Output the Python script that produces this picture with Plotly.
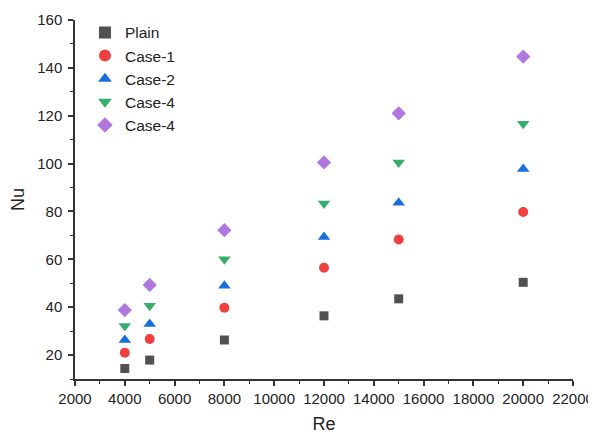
import plotly.graph_objects as go

re_vals = [4000, 5000, 8000, 12000, 15000, 20000]
series_names = ["Plain", "Case-1", "Case-2", "Case-4", "Case-4"]
plain = [14.4, 17.9, 26.3, 36.4, 43.5, 50.4]
case1 = [21.0, 26.7, 39.8, 56.5, 68.3, 79.8]
case2 = [26.3, 33.0, 49.0, 69.3, 83.6, 97.7]
case4a = [32.1, 40.6, 60.0, 83.3, 100.5, 116.6]
case4b = [38.8, 49.3, 72.2, 100.5, 121.0, 144.7]

colors = ["#515151", "#F14040", "#1A6FDF", "#37AD6B", "#B177DE"]
symbols = ["square", "circle", "triangle-up", "triangle-down", "diamond"]
sizes = [9, 10, 11, 11, 11]
data = [plain, case1, case2, case4a, case4b]

FONT = "Liberation Sans, Arial"

fig = go.Figure()
for name, ys, c, s, sz in zip(series_names, data, colors, symbols, sizes):
    fig.add_trace(go.Scatter(x=re_vals, y=ys, mode="markers", name=name,
                             marker=dict(color=c, symbol=s, size=sz, line=dict(width=0))))

axis_common = dict(showline=True, linecolor="#333333", linewidth=1.5,
                   ticks="outside", ticklen=5, tickwidth=1.5, tickcolor="#333333",
                   showgrid=False, zeroline=False, mirror=False, automargin=False,
                   tickfont=dict(family=FONT, size=15, color="#222222"))

fig.update_xaxes(range=[2000, 22000], tick0=0, dtick=2000, tickformat="d", **axis_common,
                 minor=dict(ticks="outside", ticklen=3, tickwidth=1.2, tickcolor="#333333", dtick=1000),
                 title=dict(text="Re", font=dict(family=FONT, size=18, color="#222222"), standoff=12))
fig.update_yaxes(range=[10, 160], tick0=0, dtick=20, ticklabelstandoff=3, **axis_common,
                 minor=dict(ticks="outside", ticklen=3, tickwidth=1.2, tickcolor="#333333", dtick=10),
                 title=dict(text="Nu", font=dict(family=FONT, size=18, color="#222222"), standoff=8))

fig.update_layout(width=596, height=435, margin=dict(l=67, r=31, t=12, b=64, autoexpand=False),
                  plot_bgcolor="white", paper_bgcolor="white",
                  legend=dict(x=0.02, xref="paper", y=0.982, yref="container",
                              xanchor="left", yanchor="top",
                              font=dict(family=FONT, size=15.5, color="#222222"),
                              bgcolor="rgba(0,0,0,0)", tracegroupgap=0, itemsizing="constant"),
                  showlegend=True)

fig.write_html("out.html")
